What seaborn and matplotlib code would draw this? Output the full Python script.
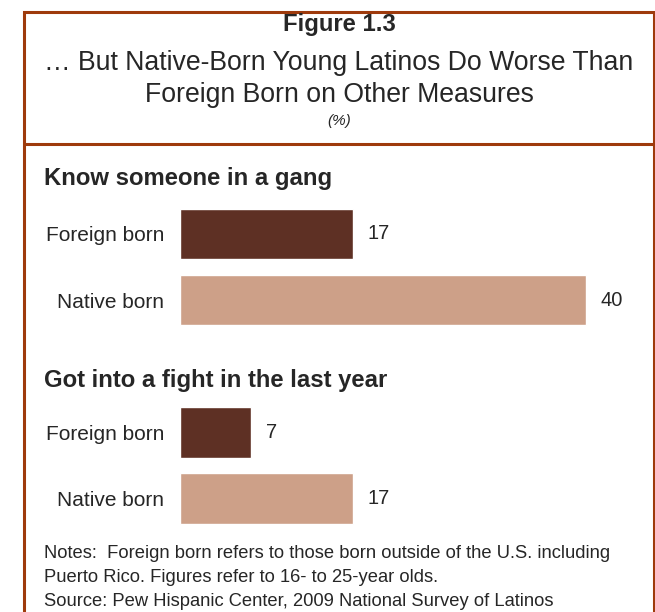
import matplotlib
matplotlib.use("Agg")
import matplotlib.pyplot as plt
import matplotlib.patches as patches
import seaborn as sns

# data
nativity = ["Foreign born", "Native born"]
know_gang = [17, 40]
got_fight = [7, 17]
headings = ["Know someone in a gang", "Got into a fight in the last year"]
title = "Figure 1.3"
subtitle = ["\u2026 But Native-Born Young Latinos Do Worse Than",
            "Foreign Born on Other Measures"]
notes = ["Notes:  Foreign born refers to those born outside of the U.S. including",
         "Puerto Rico. Figures refer to 16- to 25-year olds.",
         "Source: Pew Hispanic Center, 2009 National Survey of Latinos"]

dark = "#5e3024"
light = "#cda088"
border = "#9e3a0c"

sns.set_style("white")
plt.rcParams["font.family"] = ["Liberation Sans", "DejaVu Sans"]

W, H = 655, 612
fig = plt.figure(figsize=(W / 100, H / 100), dpi=100)

# border box + divider under the title
fig.patches.append(patches.Rectangle((23.5 / W, -0.05), 630 / W, 1.05 - 11.5 / H,
                                     transform=fig.transFigure, fill=False,
                                     edgecolor=border, linewidth=2.2))
fig.add_artist(plt.Line2D([23.5 / W, 653.5 / W], [1 - 144 / H, 1 - 144 / H],
                          transform=fig.transFigure, color=border, linewidth=2.2))

cx = 339 / W
fig.text(cx, 1 - 24 / H, title, ha="center", va="center", fontsize=17.2, fontweight="bold")
fig.text(cx, 1 - 63 / H, subtitle[0], ha="center", va="center", fontsize=19.2)
fig.text(cx, 1 - 95 / H, subtitle[1], ha="center", va="center", fontsize=19.2)
fig.text(cx, 1 - 121 / H, "(%)", ha="center", va="center", fontsize=11, style="italic")

panels = [(know_gang, headings[0], 201, 178), (got_fight, headings[1], 399.5, 380)]
for vals, head, top, head_y in panels:
    ax = fig.add_axes([180 / W, 1 - (top + 132) / H, 456.75 / W, 132 / H])
    sns.barplot(x=vals, y=nativity, hue=nativity, palette=[dark, light],
                orient="h", width=0.76, saturation=1, legend=False, ax=ax)
    ax.set_xlim(0, 45)
    ax.set_ylim(1.5, -0.5)
    for c in ax.containers:
        ax.bar_label(c, padding=10.5, fontsize=14.5)
    ax.set_xticks([])
    ax.set_xlabel("")
    ax.set_ylabel("")
    ax.tick_params(axis="y", length=0, pad=11.5, labelsize=15)
    sns.despine(ax=ax, left=True, bottom=True)
    ax.patch.set_alpha(0)
    fig.text(44 / W, 1 - head_y / H, head, ha="left", va="center",
             fontsize=17.2, fontweight="bold")

for y, line in zip([553, 577, 602], notes):
    fig.text(44 / W, 1 - y / H, line, ha="left", va="center", fontsize=13.2)

fig.savefig("out.png", dpi=100)
